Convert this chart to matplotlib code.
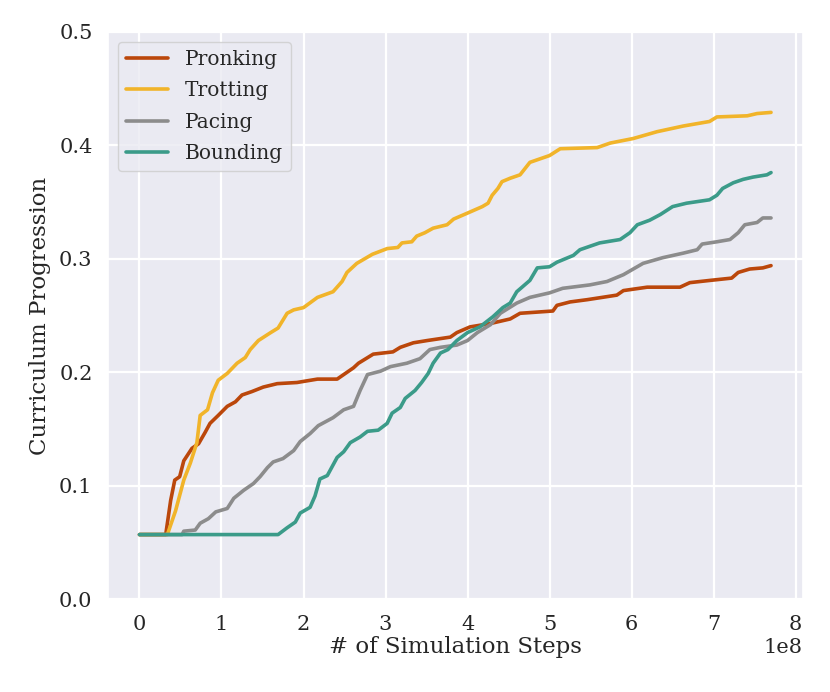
import numpy as np
import matplotlib
matplotlib.use("Agg")
import matplotlib.pyplot as plt
import seaborn as sns

sns.set_theme(style="darkgrid")
plt.rcParams['font.family'] = ['DejaVu Serif']

SCALE = 1e8
labels = ["Pronking", "Trotting", "Pacing", "Bounding"]
colors = ["#bb470b", "#f1b42a", "#8c8c8c", "#3b9b89"]

pronking_x = [0, 0.32, 0.38, 0.43, 0.49, 0.54, 0.64, 0.72, 0.80, 0.86, 0.96, 1.07, 1.17, 1.25, 1.37,
              1.51, 1.68, 1.92, 2.17, 2.41, 2.49, 2.61, 2.67, 2.85, 3.09, 3.18, 3.34, 3.51, 3.79,
              3.87, 4.03, 4.28, 4.52, 4.64, 5.04, 5.09, 5.25, 5.46, 5.82, 5.90, 6.19, 6.59, 6.71,
              6.96, 7.22, 7.30, 7.44, 7.60, 7.70]
pronking_y = [0.057, 0.057, 0.087, 0.105, 0.108, 0.122, 0.133, 0.137, 0.147, 0.155, 0.162, 0.170, 0.174,
              0.180, 0.183, 0.187, 0.190, 0.191, 0.194, 0.194, 0.198, 0.204, 0.208, 0.216, 0.218,
              0.222, 0.226, 0.228, 0.231, 0.235, 0.240, 0.243, 0.247, 0.252, 0.254, 0.259, 0.262,
              0.264, 0.268, 0.272, 0.275, 0.275, 0.279, 0.281, 0.283, 0.288, 0.291, 0.292, 0.294]

trotting_x = [0, 0.34, 0.44, 0.54, 0.62, 0.70, 0.74, 0.83, 0.89, 0.96, 1.07, 1.19, 1.29, 1.35, 1.45,
              1.60, 1.69, 1.80, 1.88, 2.00, 2.17, 2.36, 2.47, 2.53, 2.65, 2.84, 3.02, 3.15, 3.20,
              3.32, 3.38, 3.48, 3.58, 3.75, 3.83, 3.99, 4.18, 4.25, 4.30, 4.37, 4.42, 4.52, 4.64,
              4.76, 5.00, 5.13, 5.58, 5.74, 6.02, 6.31, 6.63, 6.95, 7.04, 7.41, 7.53, 7.70]
trotting_y = [0.057, 0.057, 0.078, 0.105, 0.120, 0.138, 0.162, 0.167, 0.182, 0.193, 0.199, 0.208, 0.213,
              0.220, 0.228, 0.235, 0.239, 0.252, 0.255, 0.257, 0.266, 0.271, 0.280, 0.288, 0.296,
              0.304, 0.309, 0.310, 0.314, 0.315, 0.320, 0.323, 0.327, 0.330, 0.335, 0.340, 0.346,
              0.349, 0.356, 0.362, 0.368, 0.371, 0.374, 0.385, 0.391, 0.397, 0.398, 0.402, 0.406,
              0.412, 0.417, 0.421, 0.425, 0.426, 0.428, 0.429]

pacing_x = [0, 0.52, 0.54, 0.68, 0.74, 0.84, 0.93, 1.07, 1.15, 1.27, 1.39, 1.47, 1.56, 1.63, 1.75,
            1.88, 1.96, 2.08, 2.18, 2.36, 2.49, 2.61, 2.69, 2.78, 2.94, 3.06, 3.26, 3.42, 3.54,
            3.67, 3.87, 4.00, 4.12, 4.28, 4.40, 4.60, 4.76, 5.00, 5.16, 5.49, 5.70, 5.90, 6.14,
            6.38, 6.63, 6.80, 6.86, 7.04, 7.20, 7.30, 7.38, 7.53, 7.60, 7.70]
pacing_y = [0.057, 0.057, 0.060, 0.061, 0.067, 0.071, 0.077, 0.080, 0.089, 0.096, 0.102, 0.108, 0.116,
            0.121, 0.124, 0.131, 0.139, 0.146, 0.153, 0.160, 0.167, 0.170, 0.184, 0.198, 0.201,
            0.205, 0.208, 0.212, 0.220, 0.222, 0.224, 0.228, 0.235, 0.242, 0.252, 0.261, 0.266,
            0.270, 0.274, 0.277, 0.280, 0.286, 0.296, 0.301, 0.305, 0.308, 0.313, 0.315, 0.317,
            0.323, 0.330, 0.332, 0.336, 0.336]

bounding_x = [0, 1.69, 1.80, 1.90, 1.96, 2.08, 2.14, 2.20, 2.29, 2.41, 2.49, 2.57, 2.69, 2.78, 2.91,
              3.02, 3.08, 3.18, 3.24, 3.36, 3.44, 3.52, 3.58, 3.67, 3.76, 3.87, 4.00, 4.15, 4.31,
              4.43, 4.52, 4.60, 4.76, 4.85, 5.00, 5.09, 5.29, 5.37, 5.61, 5.86, 5.98, 6.07, 6.22,
              6.35, 6.50, 6.67, 6.95, 7.04, 7.11, 7.24, 7.36, 7.48, 7.65, 7.70]
bounding_y = [0.057, 0.057, 0.063, 0.068, 0.076, 0.081, 0.091, 0.106, 0.109, 0.125, 0.130, 0.138, 0.143,
              0.148, 0.149, 0.155, 0.164, 0.169, 0.177, 0.184, 0.191, 0.199, 0.208, 0.217, 0.220,
              0.228, 0.235, 0.240, 0.249, 0.257, 0.261, 0.271, 0.281, 0.292, 0.293, 0.297, 0.303,
              0.308, 0.314, 0.317, 0.323, 0.330, 0.334, 0.339, 0.346, 0.349, 0.352, 0.356, 0.362,
              0.367, 0.370, 0.372, 0.374, 0.376]

series = [(pronking_x, pronking_y), (trotting_x, trotting_y), (pacing_x, pacing_y), (bounding_x, bounding_y)]

fig = plt.figure(figsize=(8.3, 6.92), dpi=100)
ax = fig.add_axes([0.130, 0.134, 0.837, 0.820])
for (xs, ys), lab, c in zip(series, labels, colors):
    ax.plot(np.array(xs) * SCALE, ys, color=c, lw=2.6, label=lab)

ax.set_ylim(0, 0.5)
ax.set_xlabel("# of Simulation Steps", fontsize=16.5, labelpad=2)
ax.set_ylabel("Curriculum Progression", fontsize=16.5, labelpad=6)
ax.tick_params(labelsize=15, pad=5)
ax.xaxis.get_offset_text().set_fontsize(15)
ax.grid(color="white", lw=1.6)
leg = ax.legend(loc="upper left", fontsize=14.5, handlelength=2.1, frameon=True,
                borderaxespad=0.5, labelspacing=0.62)
fig.savefig("out.png", dpi=100)
